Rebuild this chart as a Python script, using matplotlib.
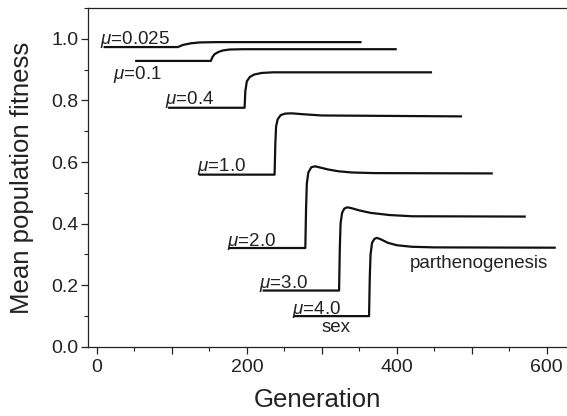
import matplotlib
matplotlib.use("Agg")
import matplotlib.pyplot as plt
from matplotlib.ticker import MultipleLocator, FuncFormatter

plt.rcParams['font.family'] = ['Liberation Sans', 'DejaVu Sans']
plt.rcParams['mathtext.fontset'] = 'custom'
plt.rcParams['mathtext.it'] = 'Liberation Sans:italic'
plt.rcParams['mathtext.rm'] = 'Liberation Sans'

# curves (generation, mean fitness)
mu_labels = ["0.025", "0.1", "0.4", "1.0", "2.0", "3.0", "4.0"]

gen_0025 = [9, 108, 115, 125, 137, 160, 353]
fit_0025 = [0.973, 0.973, 0.980, 0.985, 0.988, 0.989, 0.989]

gen_01 = [51, 152, 154, 157, 162, 168, 177, 195, 400]
fit_01 = [0.928, 0.928, 0.940, 0.950, 0.957, 0.962, 0.965, 0.966, 0.966]

gen_04 = [95, 197, 198, 200, 204, 210, 220, 235, 447]
fit_04 = [0.776, 0.776, 0.830, 0.862, 0.876, 0.884, 0.889, 0.891, 0.891]

gen_1 = [136, 237, 238, 239, 241, 245, 251, 260, 275, 300, 487]
fit_1 = [0.559, 0.559, 0.660, 0.715, 0.738, 0.752, 0.757, 0.758, 0.755, 0.751, 0.748]

gen_2 = [176, 278, 279, 280, 282, 286, 291, 298, 308, 322, 340, 370, 528]
fit_2 = [0.321, 0.321, 0.450, 0.530, 0.566, 0.583, 0.586, 0.582, 0.576, 0.570, 0.566, 0.564, 0.563]

gen_3 = [221, 323, 324, 325, 327, 330, 334, 340, 350, 365, 390, 420, 572]
fit_3 = [0.183, 0.183, 0.320, 0.400, 0.435, 0.449, 0.453, 0.450, 0.443, 0.435, 0.428, 0.424, 0.423]

gen_4 = [263, 363, 364, 365, 367, 370, 373, 378, 388, 400, 420, 450, 612]
fit_4 = [0.100, 0.100, 0.230, 0.300, 0.338, 0.350, 0.354, 0.350, 0.338, 0.330, 0.325, 0.323, 0.322]

# label anchor points (left edge, baseline)
label_x = [4, 21, 91, 133, 174, 216, 260]
label_y = [0.984, 0.868, 0.787, 0.570, 0.328, 0.191, 0.107]

gens = [gen_0025, gen_01, gen_04, gen_1, gen_2, gen_3, gen_4]
fits = [fit_0025, fit_01, fit_04, fit_1, fit_2, fit_3, fit_4]

fig = plt.figure(figsize=(5.67, 4.16), dpi=100)
ax = fig.add_axes([0.155, 0.166, 0.845, 0.815])

for g, f in zip(gens, fits):
    ax.plot(g, f, color='#111111', lw=1.6, solid_capstyle='butt', solid_joinstyle='round')

for lab, lx, ly in zip(mu_labels, label_x, label_y):
    ax.text(lx, ly, r"$\mu$=" + lab, fontsize=13.5, color='#222222', ha='left', va='baseline')

ax.text(300, 0.047, "sex", fontsize=13.5, color='#222222', ha='left', va='baseline')
ax.text(417, 0.256, "parthenogenesis", fontsize=13.5, color='#222222', ha='left', va='baseline')

ax.set_xlim(-12, 627)
ax.set_ylim(0, 1.1)

ax.xaxis.set_major_locator(MultipleLocator(100))
ax.xaxis.set_minor_locator(MultipleLocator(50))
ax.xaxis.set_major_formatter(FuncFormatter(lambda v, p: "%d" % v if v % 200 == 0 else ""))
ax.yaxis.set_major_locator(MultipleLocator(0.2))
ax.yaxis.set_minor_locator(MultipleLocator(0.1))
ax.yaxis.set_major_formatter(FuncFormatter(lambda v, p: "%.1f" % v))

ax.tick_params(which='major', direction='out', length=5, width=0.9, labelsize=14, colors='#222222')
ax.tick_params(axis='y', which='major', pad=1.5)
ax.tick_params(axis='x', which='major', pad=4)
ax.tick_params(which='minor', direction='out', length=3, width=0.8, colors='#222222')

for s in ['left', 'bottom', 'top']:
    ax.spines[s].set_linewidth(0.9)
    ax.spines[s].set_color('#222222')
ax.spines['right'].set_visible(False)

ax.set_xlabel("Generation", fontsize=18.5, color='#222222')
ax.set_ylabel("Mean population fitness", fontsize=18.5, color='#222222')
ax.xaxis.set_label_coords(0.48, -0.12)
ax.yaxis.set_label_coords(-0.112, 0.5)

fig.savefig("out.png", dpi=100)
